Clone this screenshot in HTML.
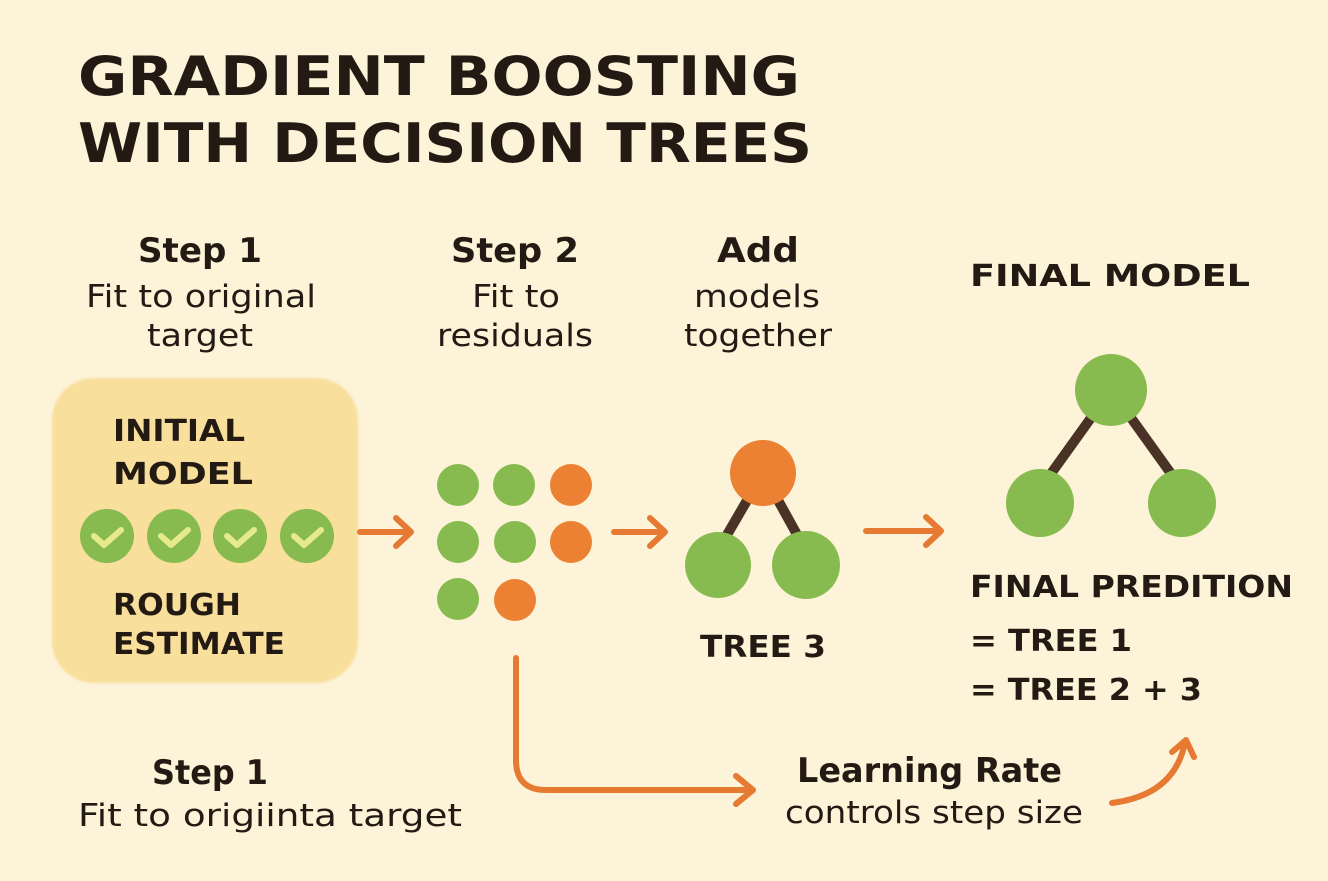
<!DOCTYPE html>
<html><head><meta charset="utf-8"><style>
html,body{margin:0;padding:0}
body{width:1328px;height:881px;background:#fdf3d8;position:relative;overflow:hidden;font-family:"Liberation Sans","DejaVu Sans",sans-serif;color:#231a14}
</style></head><body>
<svg width="1328" height="881" viewBox="0 0 1328 881" style="position:absolute;left:0;top:0">
<defs><filter id="b"><feGaussianBlur stdDeviation="1"/></filter></defs>
<rect x="52" y="378" width="306" height="305" rx="42" fill="#f8df9c" filter="url(#b)"/>
<g font-family="DejaVu Sans, Liberation Sans, sans-serif" font-weight="bold" fill="#231a14" lengthAdjust="spacingAndGlyphs">
<text x="78" y="95" font-size="54" textLength="722" lengthAdjust="spacingAndGlyphs">GRADIENT BOOSTING</text>
<text x="78" y="162" font-size="54" textLength="734" lengthAdjust="spacingAndGlyphs">WITH DECISION TREES</text>
<text x="138" y="262" font-size="34" textLength="124" lengthAdjust="spacingAndGlyphs">Step 1</text>
<text x="451" y="262" font-size="34" textLength="128" lengthAdjust="spacingAndGlyphs">Step 2</text>
<text x="717" y="262" font-size="34" textLength="82" lengthAdjust="spacingAndGlyphs">Add</text>
<text x="970" y="286" font-size="30" textLength="280" lengthAdjust="spacingAndGlyphs">FINAL MODEL</text>
<text x="113" y="441" font-size="30" textLength="132" lengthAdjust="spacingAndGlyphs">INITIAL</text>
<text x="113" y="484" font-size="30" textLength="140" lengthAdjust="spacingAndGlyphs">MODEL</text>
<text x="113" y="615" font-size="30" textLength="128" lengthAdjust="spacingAndGlyphs">ROUGH</text>
<text x="113" y="654" font-size="30" textLength="172" lengthAdjust="spacingAndGlyphs">ESTIMATE</text>
<text x="700" y="657" font-size="30" textLength="126" lengthAdjust="spacingAndGlyphs">TREE 3</text>
<text x="970" y="597" font-size="30" textLength="323" lengthAdjust="spacingAndGlyphs">FINAL PREDITION</text>
<text x="970" y="651" font-size="30" textLength="162" lengthAdjust="spacingAndGlyphs">= TREE 1</text>
<text x="970" y="700" font-size="30" textLength="232" lengthAdjust="spacingAndGlyphs">= TREE 2 + 3</text>
<text x="152" y="784" font-size="34" textLength="116" lengthAdjust="spacingAndGlyphs">Step 1</text>
<text x="797" y="782" font-size="34" textLength="265" lengthAdjust="spacingAndGlyphs">Learning Rate</text>
</g>
<g font-family="DejaVu Sans, Liberation Sans, sans-serif" font-size="31" fill="#231a14">
<text x="86" y="307" textLength="230" lengthAdjust="spacingAndGlyphs">Fit to original</text>
<text x="147" y="346" textLength="106" lengthAdjust="spacingAndGlyphs">target</text>
<text x="472" y="307" textLength="88" lengthAdjust="spacingAndGlyphs">Fit to</text>
<text x="437" y="346" textLength="156" lengthAdjust="spacingAndGlyphs">residuals</text>
<text x="694" y="307" textLength="126" lengthAdjust="spacingAndGlyphs">models</text>
<text x="684" y="346" textLength="148" lengthAdjust="spacingAndGlyphs">together</text>
<text x="78" y="826" textLength="384" lengthAdjust="spacingAndGlyphs">Fit to origiinta target</text>
<text x="785" y="823" textLength="298" lengthAdjust="spacingAndGlyphs">controls step size</text>
</g>
<g fill="#88bb4f">
<circle cx="107" cy="536" r="27"/><circle cx="174" cy="536" r="27"/><circle cx="240" cy="536" r="27"/><circle cx="307" cy="536" r="27"/>
</g>
<g fill="none" stroke="#e6ea8a" stroke-width="6" stroke-linecap="round" stroke-linejoin="round">
<path d="M94 536 l10 9 l17 -15"/><path d="M161 536 l10 9 l17 -15"/><path d="M227 536 l10 9 l17 -15"/><path d="M294 536 l10 9 l17 -15"/>
</g>
<g fill="#88bb4f">
<circle cx="458" cy="485" r="21"/><circle cx="514" cy="485" r="21"/>
<circle cx="458" cy="542" r="21"/><circle cx="515" cy="542" r="21"/>
<circle cx="458" cy="599" r="21"/>
</g>
<g fill="#ec8133">
<circle cx="571" cy="485" r="21"/><circle cx="571" cy="542" r="21"/><circle cx="515" cy="600" r="21"/>
</g>
<g stroke="#4a3326" stroke-width="10">
<line x1="763" y1="473" x2="724" y2="540"/><line x1="763" y1="473" x2="800" y2="540"/>
<line x1="1111" y1="390" x2="1050" y2="475"/><line x1="1111" y1="390" x2="1172" y2="475"/>
</g>
<circle cx="763" cy="473" r="33" fill="#ec8133"/>
<circle cx="718" cy="565" r="33" fill="#88bb4f"/><circle cx="806" cy="565" r="34" fill="#88bb4f"/>
<circle cx="1111" cy="390" r="36" fill="#88bb4f"/>
<circle cx="1040" cy="503" r="34" fill="#88bb4f"/><circle cx="1182" cy="503" r="34" fill="#88bb4f"/>
<g fill="none" stroke="#e67a32" stroke-width="6" stroke-linecap="round" stroke-linejoin="round">
<path d="M360 532 H410 M396 518 L411 532 L396 546"/>
<path d="M614 532 H664 M650 518 L665 532 L650 546"/>
<path d="M866 531 H940 M926 517 L941 531 L926 545"/>
<path d="M516 658 V760 Q516 790 546 790 H752 M736 776 L753 790 L736 804"/>
<path d="M1112 803 Q1175 795 1185 742 M1172 752 L1186 740 L1194 757"/>
</g>
</svg>
</body></html>
